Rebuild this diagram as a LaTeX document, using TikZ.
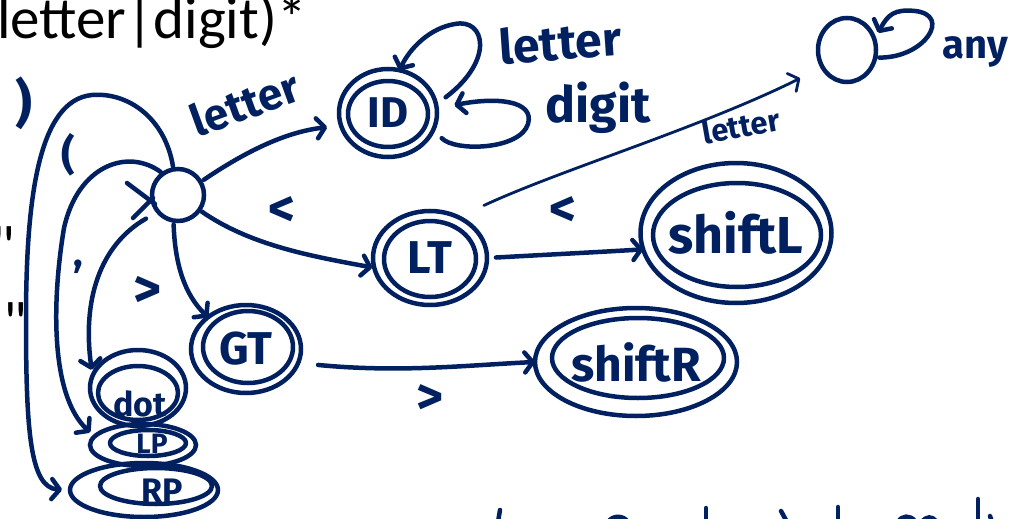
\documentclass[tikz,border=0pt]{standalone}
\usepackage{fontspec}
\setmainfont{Carlito}
\newfontfamily\slidefont{Carlito}[Ligatures=TeXOff]
\newfontfamily\handfont{Fira Sans}
\newcommand\handsz[1]{\handfont\bfseries\fontsize{#1}{#1}\selectfont}
\usetikzlibrary{arrows.meta,shapes.geometric}
\definecolor{ink}{RGB}{0,32,96}
\tikzset{
  pen/.style={draw=ink,line width=4.5pt,line cap=round,line join=round},
  fine/.style={pen,line width=2.8pt},
  arr/.style={-{Straight Barb[length=8pt,width=20pt,round]}},
  state/.style={ellipse,draw=ink,line width=4.5pt,inner sep=0pt,outer sep=0pt,text=ink},
  lbl/.style={text=ink,inner sep=0pt},
  slide/.style={inner sep=0pt,text=black,font=\slidefont\fontsize{59}{59}\selectfont},
}
\begin{document}
\begin{tikzpicture}[x=1pt,y=-1pt]
\useasboundingbox (0,0) rectangle (1012,519);

% printed fragments at the top and left edge
\node[slide,anchor=base west] (head) at (-3,39) {letter|digit)*};
\node[slide,anchor=base west] (q1) at (-9,266) {"};
\node[slide,anchor=base west] (q2) at (3,342) {"};

% states
\node[state,circle,minimum size=52pt] (start) at (178,195) {};

\node[state,minimum width=98pt,minimum height=88pt,font=\handsz{43}] (ID) at (388,113) {ID};
\draw[pen] (388,114) ellipse [x radius=40pt,y radius=33pt];

\node[state,minimum width=58pt,minimum height=64pt] (any) at (847,50) {};

\node[state,minimum width=114pt,minimum height=94pt,font=\handsz{46}] (LT) at (430,258) {LT};
\draw[pen] (430,259) ellipse [x radius=46pt,y radius=38pt];

\node[state,minimum width=190pt,minimum height=140pt,font=\handsz{52}] (shiftL) at (736,233) {shiftL};
\draw[pen] (737,235) ellipse [x radius=84pt,y radius=52pt];

\node[state,minimum width=110pt,minimum height=88pt,font=\handsz{46}] (GT) at (246,349) {GT};
\draw[pen] (248,347) ellipse [x radius=45pt,y radius=36pt];

\node[state,minimum width=202pt,minimum height=108pt,font=\handsz{48}] (shiftR) at (636,362) {shiftR};
\draw[pen] (638,358) ellipse [x radius=86pt,y radius=40pt];

\node[state,minimum width=96pt,minimum height=76pt] (dot) at (138,388) {};
\draw[pen] (138,393) ellipse [x radius=40pt,y radius=27pt];
\node[lbl,font=\handsz{34}] (dotText) at (140,404) {dot};

\node[state,minimum width=106pt,minimum height=42pt] (LP) at (143,445) {};
\draw[pen] (148,443) ellipse [x radius=38pt,y radius=13pt];
\node[lbl,font=\handsz{28}] (lpText) at (152,444) {LP};

\node[state,minimum width=148pt,minimum height=54pt] (RP) at (144,490) {};
\draw[pen] (156,486) ellipse [x radius=56pt,y radius=18pt];
\node[lbl,font=\handsz{34}] (rpText) at (162,491) {RP};

% entry mark on the start state
\draw[pen] (127,183) -- (155,204);
\draw[pen] (133,218) -- (153,198);

% transitions
\draw[pen,arr,shorten <=4pt,shorten >=14pt] (start.30) .. controls (245,152) and (285,132) .. (ID.195);
\draw[pen,arr,shorten <=12pt] (ID.10) .. controls (495,60) and (485,18) .. (455,24) .. controls (430,28) and (410,48) .. (ID.75);
\draw[pen,arr,shorten <=12pt,shorten >=18pt] (ID.-20) .. controls (455,152) and (520,150) .. (528,124) .. controls (535,100) and (495,97) .. (ID.5);
\draw[pen,arr,shorten <=4pt,shorten >=8pt] (any.-15) .. controls (925,58) and (952,15) .. (915,11) .. controls (895,9) and (888,14) .. (any.20);

\draw[pen,arr,shorten <=3pt,shorten >=2pt] (start.-35) .. controls (250,245) and (310,256) .. (LT.190);
\draw[pen,arr,shorten <=9pt] (LT.0) .. controls (560,254) and (600,252) .. (shiftL.190);
\draw[fine,arr,shorten <=28pt,shorten >=25pt] (LT.55) .. controls (560,170) and (700,128) .. (any.215);

\draw[pen,arr,shorten <=4pt] (start.-100) .. controls (175,265) and (185,295) .. (GT.140);
\draw[pen,arr,shorten <=20pt] (GT.-15) .. controls (400,373) and (470,365) .. (shiftR.180);

\draw[pen,arr,shorten <=14pt,shorten >=6pt] (start.-140) .. controls (100,245) and (82,300) .. (dot.165);
\draw[pen,arr,shorten <=3pt,shorten >=6pt] (start.125) .. controls (128,148) and (78,165) .. (64,228) .. controls (52,300) and (50,395) .. (LP.170);
\draw[pen,arr,shorten <=3pt,shorten >=8pt] (start.100) .. controls (165,118) and (128,92) .. (92,95) .. controls (38,100) and (26,200) .. (26,320) .. controls (26,430) and (30,488) .. (RP.180);

% transition labels
\node[lbl,font=\handsz{44},rotate=20] (lLetterA) at (245,103) {letter};
\node[lbl,font=\handsz{48},rotate=4] (lLetterB) at (560,42) {letter};
\node[lbl,font=\handsz{50}] (lDigit) at (598,108) {digit};
\node[lbl,font=\handsz{31},rotate=10] (lLetterC) at (741,126) {letter};
\node[lbl,font=\handsz{40}] (lAny) at (975,52) {any};
\node[lbl,font=\handsz{52}] (lClose) at (24,103) {)};
\node[lbl,font=\handsz{42}] (lOpen) at (68,155) {(};
\node[lbl,font=\handsz{40}] (lComma) at (78,267) {,};
\node[lbl,font=\handsz{54}] (lGreaterA) at (148,292) {>};
\node[lbl,font=\handsz{52}] (lLessA) at (282,212) {<};
\node[lbl,font=\handsz{52}] (lLessB) at (563,212) {<};
\node[lbl,font=\handsz{52}] (lGreaterB) at (430,400) {>};

% strokes of writing running off the bottom edge
\draw[pen] (500,510) -- (498,522);
\draw[pen] (608,522) .. controls (613,515) and (623,515) .. (628,522);
\draw[pen] (706,508) -- (706,522);
\draw[pen] (781,511) -- (787,522);
\draw[pen] (838,507) -- (838,522);
\draw[pen] (898,522) .. controls (902,515) and (910,515) .. (915,521);
\draw[pen] (922,522) .. controls (926,516) and (932,516) .. (936,521);
\draw[pen] (978,499) -- (978,522);
\draw[pen] (990,516) -- (992,522);
\end{tikzpicture}
\end{document}
